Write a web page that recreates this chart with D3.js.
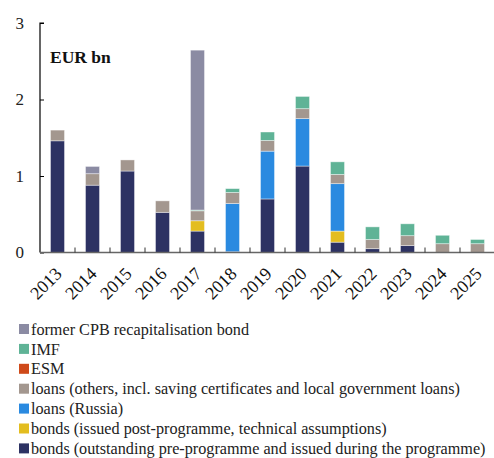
<!DOCTYPE html>
<html><head><meta charset="utf-8">
<script src="https://cdn.jsdelivr.net/npm/d3@7"></script>
<style>body{margin:0;background:#fff}svg{display:block;font-family:"Liberation Serif","Times New Roman",serif}</style>
</head><body><svg id="c" width="494" height="458"></svg>
<script>
const years = ["2013","2014","2015","2016","2017","2018","2019","2020","2021","2022","2023","2024","2025"];
const bondsPre   = [1.46,0.88,1.065,0.525,0.28,0.01,0.70,1.13,0.135,0.05,0.09,0,0];
const bondsPost  = [0,0,0,0,0.135,0,0,0,0.145,0,0,0,0];
const loansRussia= [0,0,0,0,0,0.63,0.625,0.62,0.62,0,0,0,0];
const loansOther = [0.14,0.15,0.145,0.15,0.13,0.145,0.14,0.13,0.12,0.12,0.13,0.115,0.115];
const esm        = [0,0,0,0,0,0,0,0,0,0,0,0,0];
const imf        = [0,0,0,0,0.01,0.05,0.11,0.16,0.165,0.165,0.155,0.11,0.055];
const cpb        = [0,0.095,0,0,2.09,0,0,0,0,0,0,0,0];
const yTicks = [0,1,2,3];

const series = [
  {key:"bondsPre", label:"bonds (outstanding pre-programme and issued during the programme)", color:"#2d3263", values:bondsPre},
  {key:"bondsPost", label:"bonds (issued post-programme, technical assumptions)", color:"#e3bd1f", values:bondsPost},
  {key:"loansRussia", label:"loans (Russia)", color:"#2a8ae0", values:loansRussia},
  {key:"loansOther", label:"loans (others, incl. saving certificates and local government loans)", color:"#a3978f", values:loansOther},
  {key:"esm", label:"ESM", color:"#cf4a1a", values:esm},
  {key:"imf", label:"IMF", color:"#5fb396", values:imf},
  {key:"cpb", label:"former CPB recapitalisation bond", color:"#8b8ba3", values:cpb}
];

const svg = d3.select("#c");
const x = d3.scaleBand().domain(years).range([40,495]).paddingInner(0.6).paddingOuter(0.3);
const y = d3.scaleLinear().domain([0,3]).range([252.5,23]);

const rows = years.map((yr,i)=>{const o={year:yr}; series.forEach(s=>o[s.key]=s.values[i]); return o;});
const stack = d3.stack().keys(series.map(s=>s.key))(rows);

const g = svg.append("g");
stack.forEach((layer,li)=>{
  g.selectAll(null).data(layer.filter(d=>d[1]-d[0]>0)).enter().append("rect")
    .attr("x",d=>x(d.data.year))
    .attr("width",x.bandwidth())
    .attr("y",d=>y(d[1]))
    .attr("height",d=>y(d[0])-y(d[1]))
    .attr("fill",series[li].color)
    .attr("stroke","#ffffff").attr("stroke-opacity",0.5).attr("stroke-width",0.8);
});

// y axis
const ya = svg.append("g").attr("transform","translate(40,0)")
  .call(d3.axisRight(y).tickValues(yTicks).tickSize(4).tickFormat(d3.format("d")));
ya.select(".domain").attr("stroke","#000").attr("stroke-width",1.2).attr("d","M4,"+y(3)+"H0V"+y(0));
ya.selectAll(".tick line").attr("stroke","#000");
ya.selectAll(".tick text").attr("x",-16).attr("text-anchor","end").attr("font-size",17).attr("fill","#222").attr("font-family","Liberation Serif, serif");

// x axis
const gap = x.step()-x.bandwidth();
const xa = svg.append("g").attr("transform","translate(0,"+y(0)+")");
xa.append("line").attr("x1",40).attr("x2",494).attr("y1",0).attr("y2",0).attr("stroke","#666").attr("stroke-width",1.5);
xa.selectAll(".tk").data(years.slice(1)).enter().append("line")
  .attr("x1",d=>x(d)-gap/2).attr("x2",d=>x(d)-gap/2)
  .attr("y1",0).attr("y2",-5).attr("stroke","#333").attr("stroke-width",1);
xa.selectAll(".lbl").data(years).enter().append("text")
  .attr("transform",d=>"translate("+(x(d)+x.bandwidth()/2+1)+",18) rotate(-45)")
  .attr("text-anchor","end").attr("dy","0.35em")
  .attr("font-size",18).attr("fill","#111").text(d=>d);

svg.append("text").attr("x",50).attr("y",63).attr("font-size",17.5).attr("font-weight","bold").attr("fill","#111").text("EUR bn");

// legend
const leg = svg.append("g");
const legItems = series.slice().reverse();
legItems.forEach((s,i)=>{
  const cy = 329 + i*19.9;
  leg.append("rect").attr("x",19).attr("y",cy-5).attr("width",10).attr("height",10).attr("fill",s.color);
  leg.append("text").attr("x",31).attr("y",cy).attr("dy","0.35em").attr("font-size",16.2).attr("fill","#222").text(s.label);
});
</script></body></html>
